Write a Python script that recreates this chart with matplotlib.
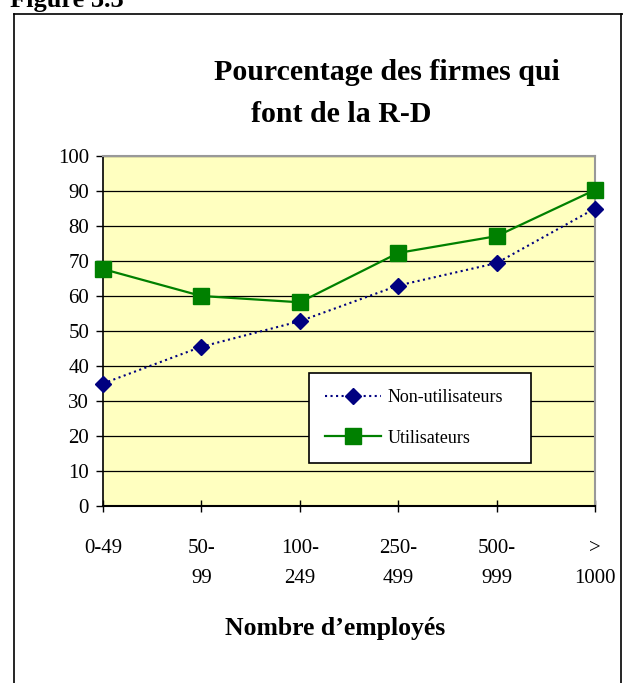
import numpy as np
import matplotlib.pyplot as plt
from matplotlib.lines import Line2D

# Données
categories = ['0-49', '50-\n99', '100-\n249', '250-\n499', '500-\n999', '>\n1000']
non_utilisateurs = [35.0, 45.5, 52.8, 63.0, 69.4, 85.0]
utilisateurs = [67.7, 60.0, 58.2, 72.3, 77.1, 90.3]
yticks = list(range(0, 101, 10))

plt.rcParams['font.family'] = ['Liberation Serif', 'DejaVu Serif']

W, H = 623, 683
fig = plt.figure(figsize=(W / 100, H / 100), dpi=100)

# axes: pixels 103..595 horizontal, 156..506 vertical
ax = fig.add_axes([103 / W, 1 - 506 / H, (595 - 103) / W, (506 - 156) / H])
ax.set_facecolor('#ffffc0')

x = np.arange(len(categories))
for v in yticks[1:]:
    ax.axhline(v, color='black', lw=0.9, zorder=1)

ax.plot(x, non_utilisateurs, color='#000080', ls=':', lw=1.5, marker='D', ms=8,
        label='Non-utilisateurs', zorder=3, clip_on=False)
ax.plot(x, utilisateurs, color='#008000', ls='-', lw=1.6, marker='s', ms=11,
        label='Utilisateurs', zorder=4, clip_on=False)

ax.set_xlim(0, len(categories) - 1)
ax.set_ylim(0, 100)
ax.set_yticks(yticks)
ax.set_xticks(x)
ax.set_xticklabels(categories, linespacing=1.75)
ax.tick_params(axis='y', labelsize=15, length=5, width=1, pad=5, colors='black')
ax.tick_params(axis='x', labelsize=15, length=8, width=1, pad=20, direction='inout')
for lbl in ax.get_xticklabels():
    lbl.set_va('top')

for side in ['top', 'right']:
    ax.spines[side].set_color('#999999')
    ax.spines[side].set_linewidth(1.5)
ax.spines['left'].set_linewidth(1.2)
ax.spines['bottom'].set_linewidth(1.5)

leg = ax.legend(loc='lower left', bbox_to_anchor=(0.419, 0.123, 0.451, 0.257),
                mode='expand', fontsize=13, frameon=True, fancybox=False,
                edgecolor='black', framealpha=1, borderpad=0.9, labelspacing=1.3,
                handlelength=3.1, handletextpad=0.35, borderaxespad=0)
leg.get_frame().set_linewidth(1.2)
leg.set_zorder(5)

# titres
fig.text(387 / W, 1 - 72 / H, 'Pourcentage des firmes qui', ha='center', va='center',
         fontsize=21.5, fontweight='bold')
fig.text(341 / W, 1 - 115 / H, 'font de la R-D', ha='center', va='center',
         fontsize=21.5, fontweight='bold')
fig.text(335 / W, 1 - 628 / H, 'Nombre d\u2019employés', ha='center', va='center',
         fontsize=18.5, fontweight='bold')
fig.text(10 / W, 1 - 7 / H, 'Figure 3.3', ha='left', va='baseline',
         fontsize=19, fontweight='bold')

# cadre extérieur
fig.add_artist(Line2D([14 / W, 14 / W], [0, 1 - 14 / H], transform=fig.transFigure,
                      color='black', lw=1.2))
fig.add_artist(Line2D([14 / W, 1], [1 - 14 / H, 1 - 14 / H], transform=fig.transFigure,
                      color='black', lw=1.2))
fig.add_artist(Line2D([621 / W, 621 / W], [0, 1 - 14 / H], transform=fig.transFigure,
                      color='black', lw=1.2))

fig.savefig('out.png', dpi=100)
